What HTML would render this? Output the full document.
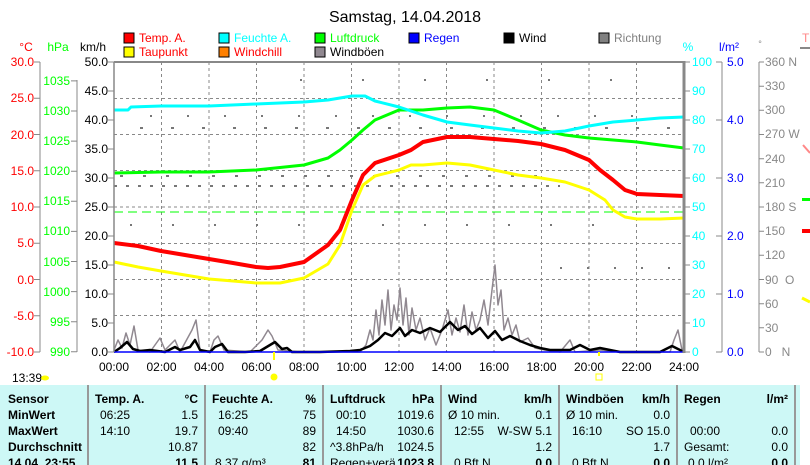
<!DOCTYPE html>
<html><head><meta charset="utf-8"><style>
html,body{margin:0;padding:0;background:#fff;width:810px;height:465px;overflow:hidden}
svg{display:block;font-family:"Liberation Sans",sans-serif}
.b{font-weight:bold}
</style></head><body>
<svg width="810" height="465" viewBox="0 0 810 465" xmlns="http://www.w3.org/2000/svg">
<text x="405" y="22" font-size="16" text-anchor="middle">Samstag, 14.04.2018</text>
<g font-size="12">
<rect x="124" y="33" width="10" height="10" fill="#f00" stroke="#000"/><text x="139" y="42" fill="#f00">Temp. A.</text>
<rect x="219" y="33" width="10" height="10" fill="#0ff" stroke="#000"/><text x="234" y="42" fill="#0ff">Feuchte A.</text>
<rect x="315" y="33" width="10" height="10" fill="#0f0" stroke="#000"/><text x="330" y="42" fill="#0f0">Luftdruck</text>
<rect x="409" y="33" width="10" height="10" fill="#00f" stroke="#000"/><text x="424" y="42" fill="#00f">Regen</text>
<rect x="504" y="33" width="10" height="10" fill="#000" stroke="#000"/><text x="519" y="42">Wind</text>
<rect x="599" y="33" width="10" height="10" fill="#808080" stroke="#000"/><text x="614" y="42" fill="#808080">Richtung</text>
<rect x="124" y="47" width="10" height="10" fill="#ff0" stroke="#000"/><text x="139" y="56" fill="#f00">Taupunkt</text>
<rect x="219" y="47" width="10" height="10" fill="#ff8000" stroke="#000"/><text x="234" y="56" fill="#f00">Windchill</text>
<rect x="315" y="47" width="10" height="10" fill="#908890" stroke="#000"/><text x="330" y="56">Windböen</text>
<text x="802" y="42" fill="#f88">T</text>
</g>
<g font-size="12">
<text x="26" y="51" text-anchor="middle" fill="#f00">°C</text>
<text x="58" y="51" text-anchor="middle" fill="#0f0">hPa</text>
<text x="93" y="51" text-anchor="middle">km/h</text>
<text x="688" y="51" text-anchor="middle" fill="#0ff">%</text>
<text x="729" y="51" text-anchor="middle" fill="#00f">l/m²</text>
<text x="760" y="47" text-anchor="middle" fill="#888" font-size="9">°</text>
</g>
<g stroke="#888" stroke-dasharray="3 3" stroke-width="1">
<line x1="161.5" y1="62" x2="161.5" y2="352"/><line x1="209" y1="62" x2="209" y2="352"/><line x1="256.5" y1="62" x2="256.5" y2="352"/><line x1="304" y1="62" x2="304" y2="352"/><line x1="351.5" y1="62" x2="351.5" y2="352"/><line x1="399" y1="62" x2="399" y2="352"/><line x1="446.5" y1="62" x2="446.5" y2="352"/><line x1="494" y1="62" x2="494" y2="352"/><line x1="541.5" y1="62" x2="541.5" y2="352"/><line x1="589" y1="62" x2="589" y2="352"/><line x1="636.5" y1="62" x2="636.5" y2="352"/>
<line x1="114" y1="98.5" x2="684" y2="98.5"/><line x1="114" y1="134.5" x2="684" y2="134.5"/><line x1="114" y1="170.5" x2="684" y2="170.5"/><line x1="114" y1="207" x2="684" y2="207"/><line x1="114" y1="243.5" x2="684" y2="243.5"/><line x1="114" y1="279.5" x2="684" y2="279.5"/><line x1="114" y1="315.5" x2="684" y2="315.5"/>
</g>
<line x1="114" y1="212" x2="684" y2="212" stroke="#0f0" stroke-dasharray="9 5"/>
<g stroke="#777" stroke-width="2">
<line x1="114" y1="186" x2="560" y2="186" stroke-dasharray="3 9"/>
<line x1="120" y1="176" x2="540" y2="176" stroke-dasharray="3 20"/>
<line x1="130" y1="225" x2="600" y2="225" stroke-dasharray="2 40"/>
<line x1="140" y1="128" x2="680" y2="128" stroke-dasharray="3 28"/>
<line x1="300" y1="80" x2="640" y2="80" stroke-dasharray="2 60"/>
<line x1="150" y1="116" x2="650" y2="116" stroke-dasharray="2 35"/>
<line x1="560" y1="268" x2="680" y2="268" stroke-dasharray="2 25"/>
</g>
<g stroke="#888" stroke-width="1" fill="none">
<line x1="40" y1="62" x2="40" y2="352"/><line x1="77" y1="80" x2="77" y2="352"/>
<line x1="722" y1="62" x2="722" y2="352"/><line x1="759" y1="62" x2="759" y2="352"/>
</g>
<g stroke="#888">
<path d="M34 62H40M34 98.25H40M34 134.5H40M34 170.75H40M34 207H40M34 243.25H40M34 279.5H40M34 315.75H40M34 352H40"/>
<path d="M71 80.9H77M71 111H77M71 141.1H77M71 171.2H77M71 201.3H77M71 231.4H77M71 261.5H77M71 291.6H77M71 321.7H77M71 351.8H77"/>
<path d="M108 62H114M108 91H114M108 120H114M108 149H114M108 178H114M108 207H114M108 236H114M108 265H114M108 294H114M108 323H114M108 352H114"/>
<path d="M684 62H690M684 91H690M684 120H690M684 149H690M684 178H690M684 207H690M684 236H690M684 265H690M684 294H690M684 323H690M684 352H690"/>
<path d="M716 62H722M716 120H722M716 178H722M716 236H722M716 294H722M716 352H722"/>
<path d="M759 62H764M759 86.2H764M759 110.3H764M759 134.5H764M759 158.7H764M759 182.8H764M759 207H764M759 231.2H764M759 255.3H764M759 279.5H764M759 303.7H764M759 327.8H764M759 352H764"/>
</g>
<g font-size="12" text-anchor="end" fill="#f00">
<text x="34" y="66">30.0</text><text x="34" y="102">25.0</text><text x="34" y="139">20.0</text><text x="34" y="175">15.0</text><text x="34" y="211">10.0</text><text x="34" y="247">5.0</text><text x="34" y="284">0.0</text><text x="34" y="320">-5.0</text><text x="34" y="356">-10.0</text>
</g>
<g font-size="12" text-anchor="end" fill="#0f0">
<text x="70" y="85">1035</text><text x="70" y="115">1030</text><text x="70" y="145">1025</text><text x="70" y="175">1020</text><text x="70" y="205">1015</text><text x="70" y="235">1010</text><text x="70" y="266">1005</text><text x="70" y="296">1000</text><text x="70" y="326">995</text><text x="70" y="356">990</text>
</g>
<g font-size="12" text-anchor="end">
<text x="108" y="66">50.0</text><text x="108" y="95">45.0</text><text x="108" y="124">40.0</text><text x="108" y="153">35.0</text><text x="108" y="182">30.0</text><text x="108" y="211">25.0</text><text x="108" y="240">20.0</text><text x="108" y="269">15.0</text><text x="108" y="298">10.0</text><text x="108" y="327">5.0</text><text x="108" y="356">0.0</text>
</g>
<g font-size="12" fill="#0ff">
<text x="692" y="66">100</text><text x="692" y="95">90</text><text x="692" y="124">80</text><text x="692" y="153">70</text><text x="692" y="182">60</text><text x="692" y="211">50</text><text x="692" y="240">40</text><text x="692" y="269">30</text><text x="692" y="298">20</text><text x="692" y="327">10</text><text x="692" y="356">0</text>
</g>
<g font-size="12" fill="#00f">
<text x="727" y="66">5.0</text><text x="727" y="124">4.0</text><text x="727" y="182">3.0</text><text x="727" y="240">2.0</text><text x="727" y="298">1.0</text><text x="727" y="356">0.0</text>
</g>
<g font-size="12" fill="#888">
<text x="765" y="66">360 N</text><text x="765" y="90">330</text><text x="765" y="114">300</text><text x="765" y="138">270 W</text><text x="765" y="163">240</text><text x="765" y="187">210</text><text x="765" y="211">180 S</text><text x="765" y="235">150</text><text x="765" y="259">120</text><text x="765" y="284">90&#160;&#160;O</text><text x="765" y="308">60</text><text x="765" y="332">30</text><text x="765" y="356">0&#160;&#160;&#160;N</text>
</g>
<g fill="none" stroke-linejoin="round">
<polyline stroke="#0f0" stroke-width="3" points="114,173 161,172 209,172 256,170 304,165 328,158 340,150 352,140 363,130 375,120 399,110 423,110 447,108 470,107 494,110 518,120 541,130 565,135 589,138 613,140 637,142 660,145 684,148"/>
<polyline stroke="#0ff" stroke-width="3" points="114,110 128,110 131,107 161,106 209,106 256,104 280,103 304,102 328,100 340,98 352,96 365,96 375,101 399,107 423,115 447,122 470,125 494,128 518,131 541,133 565,131 589,126 613,122 637,120 660,118 684,117"/>
<polyline stroke="#ff0" stroke-width="3" points="114,262 138,267 161,271 185,275 209,279 233,281 256,283 280,283 304,278 328,264 340,245 352,210 363,185 375,176 399,170 411,165 423,165 447,163 470,165 494,170 518,175 541,178 565,182 589,190 605,200 613,210 625,217 637,219 660,219 684,218"/>
<polyline stroke="#f00" stroke-width="4" points="114,243 138,246 161,251 185,255 209,259 233,263 256,267 268,268 280,267 304,262 328,245 340,230 352,200 363,175 375,163 399,155 411,150 423,142 447,137 470,137 494,139 518,141 541,144 565,150 589,160 600,170 613,180 625,190 637,194 660,195 684,196"/>
<polyline stroke="#908890" stroke-width="1.5" points="114,350 118,340 122,348 126,333 130,345 134,326 138,350 150,352 160,338 165,350 175,340 180,352 192,330 196,320 200,350 210,352 214,340 218,336 224,350 250,352 262,340 268,330 272,336 278,350 300,352 360,352 366,345 370,330 373,340 376,310 379,335 382,300 385,325 388,290 391,330 394,305 397,320 400,288 403,325 406,298 409,335 412,308 416,330 420,318 425,340 430,328 436,345 442,330 448,310 452,335 456,318 460,332 464,305 468,335 472,312 476,330 480,320 484,300 488,325 492,290 495,265 498,305 501,290 504,330 508,318 512,335 516,325 520,342 528,338 535,348 545,350 560,352 570,340 575,352 600,350 620,352 670,352 674,340 678,330 682,350"/>
<polyline stroke="#000" stroke-width="2.5" points="114,352 120,348 127,342 133,349 140,351 150,350 165,352 175,347 180,350 190,347 195,340 200,350 210,352 215,347 222,344 228,352 245,352 260,351 270,345 275,342 282,349 287,348 292,352 320,352 350,351 360,350 370,346 378,340 385,333 392,336 400,328 405,336 412,330 420,333 430,328 440,332 450,322 458,330 465,326 472,334 480,328 488,338 495,331 502,340 510,336 520,341 530,345 540,348 550,350 570,350 580,345 590,350 600,348 620,352 660,352 672,346 680,350 684,352"/>
<line x1="114" y1="352" x2="684" y2="352" stroke="#00f" stroke-width="1.5"/>
</g>
<line x1="114" y1="62" x2="684" y2="62" stroke="#888" stroke-width="2"/>
<line x1="114" y1="62" x2="114" y2="352" stroke="#888" stroke-width="1.5"/>
<line x1="684" y1="61" x2="684" y2="353" stroke="#888" stroke-width="3"/>
<line x1="800" y1="48" x2="810" y2="48" stroke="#888" stroke-width="2"/>
<line x1="803" y1="145" x2="810" y2="153" stroke="#f88" stroke-width="2"/>
<rect x="802" y="198" width="8" height="3" fill="#0f0"/><rect x="802" y="229" width="8" height="4" fill="#f00"/>
<line x1="802" y1="298" x2="810" y2="302" stroke="#ff0" stroke-width="3"/>
<g font-size="12" text-anchor="middle">
<text x="114" y="371">00:00</text><text x="161.5" y="371">02:00</text><text x="209" y="371">04:00</text><text x="256.5" y="371">06:00</text><text x="304" y="371">08:00</text><text x="351.5" y="371">10:00</text><text x="399" y="371">12:00</text><text x="446.5" y="371">14:00</text><text x="494" y="371">16:00</text><text x="541.5" y="371">18:00</text><text x="589" y="371">20:00</text><text x="636.5" y="371">22:00</text><text x="684" y="371">24:00</text>
</g>
<text x="12" y="382" font-size="12">13:39</text>
<ellipse cx="45" cy="378" rx="4" ry="2.5" fill="#ff0"/>
<line x1="274" y1="352" x2="274" y2="360" stroke="#ff0" stroke-width="2"/>
<circle cx="274" cy="377" r="3.5" fill="#ff0"/>
<rect x="596" y="374" width="6" height="6" fill="none" stroke="#ff0"/>
<line x1="599" y1="352" x2="599" y2="356" stroke="#ff0" stroke-width="2"/>
<rect x="0" y="385" width="800" height="80" fill="#cdf8f6"/>
<g stroke="#999" stroke-width="2">
<line x1="88" y1="385" x2="88" y2="465"/><line x1="205" y1="385" x2="205" y2="465"/><line x1="323" y1="385" x2="323" y2="465"/><line x1="441" y1="385" x2="441" y2="465"/><line x1="559" y1="385" x2="559" y2="465"/><line x1="677" y1="385" x2="677" y2="465"/><line x1="795" y1="385" x2="795" y2="465"/>
</g>
<g font-size="12">
<g class="b"><text x="8" y="403">Sensor</text><text x="8" y="419">MinWert</text><text x="8" y="435">MaxWert</text><text x="8" y="451">Durchschnitt</text><text x="8" y="467">14.04. 23:55</text></g>
<text x="95" y="403" class="b">Temp. A.</text><text x="198" y="403" class="b" text-anchor="end">°C</text>
<text x="100" y="419">06:25</text><text x="198" y="419" text-anchor="end">1.5</text>
<text x="100" y="435">14:10</text><text x="198" y="435" text-anchor="end">19.7</text>
<text x="198" y="451" text-anchor="end">10.87</text><text x="198" y="467" text-anchor="end" class="b">11.5</text>
<text x="212" y="403" class="b">Feuchte A.</text><text x="316" y="403" class="b" text-anchor="end">%</text>
<text x="218" y="419">16:25</text><text x="316" y="419" text-anchor="end">75</text>
<text x="218" y="435">09:40</text><text x="316" y="435" text-anchor="end">89</text>
<text x="316" y="451" text-anchor="end">82</text>
<text x="215" y="467">8.37 g/m³</text><text x="316" y="467" text-anchor="end" class="b">81</text>
<text x="330" y="403" class="b">Luftdruck</text><text x="434" y="403" class="b" text-anchor="end">hPa</text>
<text x="336" y="419">00:10</text><text x="434" y="419" text-anchor="end">1019.6</text>
<text x="336" y="435">14:50</text><text x="434" y="435" text-anchor="end">1030.6</text>
<text x="330" y="451">^3.8hPa/h</text><text x="434" y="451" text-anchor="end">1024.5</text>
<text x="330" y="467">Regen+verä</text><text x="434" y="467" text-anchor="end" class="b">1023.8</text>
<text x="448" y="403" class="b">Wind</text><text x="552" y="403" class="b" text-anchor="end">km/h</text>
<text x="448" y="419">Ø 10 min.</text><text x="552" y="419" text-anchor="end">0.1</text>
<text x="454" y="435">12:55</text><text x="552" y="435" text-anchor="end">W-SW 5.1</text>
<text x="552" y="451" text-anchor="end">1.2</text>
<text x="454" y="467">0 Bft N</text><text x="552" y="467" text-anchor="end" class="b">0.0</text>
<text x="566" y="403" class="b">Windböen</text><text x="670" y="403" class="b" text-anchor="end">km/h</text>
<text x="566" y="419">Ø 10 min.</text><text x="670" y="419" text-anchor="end">0.0</text>
<text x="572" y="435">16:10</text><text x="670" y="435" text-anchor="end">SO 15.0</text>
<text x="670" y="451" text-anchor="end">1.7</text>
<text x="572" y="467">0 Bft N</text><text x="670" y="467" text-anchor="end" class="b">0.0</text>
<text x="684" y="403" class="b">Regen</text><text x="788" y="403" class="b" text-anchor="end">l/m²</text>
<text x="690" y="435">00:00</text><text x="788" y="435" text-anchor="end">0.0</text>
<text x="684" y="451">Gesamt:</text><text x="788" y="451" text-anchor="end">0.0</text>
<text x="688" y="467">0.0 l/m²</text><text x="788" y="467" text-anchor="end" class="b">0.0</text>
</g>
</svg>
</body></html>
